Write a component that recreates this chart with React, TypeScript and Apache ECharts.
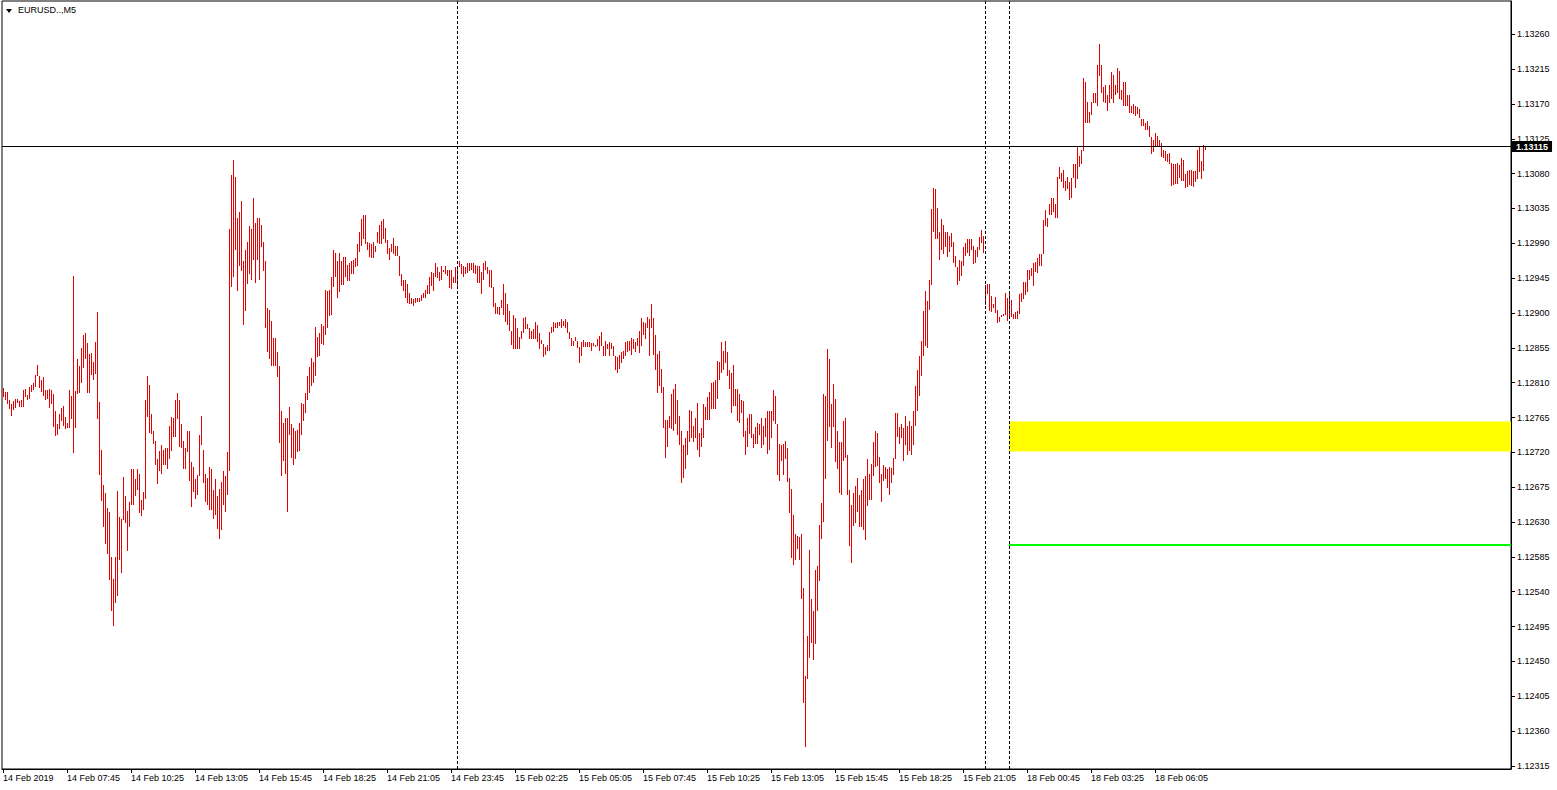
import React, { useEffect, useRef } from 'react';
import * as echarts from 'echarts';

// ---------- data ----------
const SYMBOL_TITLE = 'EURUSD..,M5';
// prices stored in points (0.00001) above BASE_PRICE
const BASE_PRICE = 1.12;
const POINT = 0.00001;

const xLabels = [
  '14 Feb 2019', '14 Feb 07:45', '14 Feb 10:25', '14 Feb 13:05', '14 Feb 15:45', '14 Feb 18:25', '14 Feb 21:05', '14 Feb 23:45',
  '15 Feb 02:25', '15 Feb 05:05', '15 Feb 07:45', '15 Feb 10:25', '15 Feb 13:05', '15 Feb 15:45', '15 Feb 18:25', '15 Feb 21:05',
  '18 Feb 00:45', '18 Feb 03:25', '18 Feb 06:05',
];
const BARS_PER_LABEL = 32;

const yTicks = [
  1.12315, 1.1236, 1.12405, 1.1245, 1.12495, 1.1254, 1.12585, 1.1263, 1.12675, 1.1272, 1.12765,
  1.1281, 1.12855, 1.129, 1.12945, 1.1299, 1.13035, 1.1308, 1.13125, 1.1317, 1.13215, 1.1326,
];

const highPts = [
  803,798,798,787,782,786,789,789,786,788,
  801,802,794,804,807,810,820,833,818,813,
  817,800,801,802,800,795,773,757,770,777,
  780,766,758,800,793,948,799,840,832,855,
  872,874,861,847,848,837,862,901,785,723,
  678,667,648,643,585,557,585,670,636,634,
  688,663,644,656,698,698,686,698,692,659,
  669,788,819,807,770,747,735,712,722,729,
  723,726,726,754,766,764,787,797,787,757,
  735,725,748,747,708,701,685,691,742,767,
  723,692,687,701,698,672,686,663,673,682,
  696,689,720,1008,1078,1097,1076,1023,1031,1045,
  967,982,992,1012,1008,1049,1016,1023,1023,1014,
  992,967,907,904,890,868,868,849,832,773,
  758,765,765,778,756,751,747,749,758,784,
  783,797,819,830,842,837,882,869,874,886,
  883,930,929,930,946,981,978,967,978,967,
  972,972,962,964,967,969,971,989,1005,1021,
  1026,1027,992,991,989,992,987,1005,1014,1019,
  1021,1010,994,984,989,997,986,986,973,951,
  943,943,937,926,920,918,920,920,920,923,
  926,930,936,946,953,952,964,960,953,961,
  956,961,955,956,956,947,959,961,967,963,
  961,959,964,965,965,965,962,961,961,953,
  964,967,960,955,955,934,913,908,908,917,
  938,926,912,903,877,897,894,880,869,877,
  893,895,886,880,877,879,888,885,874,865,
  860,856,859,875,882,889,887,888,889,892,
  890,892,888,876,868,864,869,864,856,862,
  865,862,862,862,861,861,859,866,870,875,
  858,864,860,862,861,857,845,843,846,850,
  851,862,864,864,868,866,863,868,877,893,
  888,887,895,892,912,893,871,847,851,828,
  805,762,762,767,796,802,808,787,767,748,
  729,739,747,775,774,754,765,784,745,751,
  782,779,792,798,810,811,813,838,837,862,
  851,864,849,827,822,833,802,802,795,787,
  786,747,764,769,770,744,753,758,756,764,
  754,764,773,773,774,800,793,756,731,729,
  731,735,725,687,673,639,614,612,611,614,
  545,431,483,594,530,515,568,573,626,654,
  795,793,854,840,782,808,789,747,733,733,
  761,764,717,672,652,668,677,687,665,672,
  686,689,711,692,705,733,748,745,714,692,
  704,701,698,701,700,713,771,771,753,757,
  752,767,754,761,754,774,806,826,845,864,
  903,929,916,943,1034,1061,1060,1036,1004,1021,
  1014,1005,1005,1000,1003,992,973,959,968,967,
  985,990,996,996,996,986,981,985,998,1007,
  1000,936,937,937,922,912,921,904,895,898,
  899,926,920,927,917,899,901,902,925,926,
  940,940,955,955,958,964,966,971,976,976,
  1020,1033,1023,1041,1048,1048,1041,1076,1088,1081,
  1085,1070,1076,1069,1075,1092,1092,1114,1103,1111,
  1203,1198,1173,1159,1172,1184,1184,1220,1247,1220,
  1192,1195,1182,1194,1211,1207,1194,1216,1212,1188,
  1198,1198,1182,1181,1168,1170,1168,1166,1163,1151,
  1151,1145,1148,1142,1127,1124,1132,1129,1124,1119,
  1110,1109,1106,1107,1094,1093,1092,1094,1091,1100,
  1097,1079,1084,1085,1085,1084,1083,1111,1115,1096,
  1117,1114,
];

const lowPts = [
  792,788,783,776,767,775,777,784,779,779,
  779,791,788,789,798,800,805,818,803,798,
  793,787,789,777,782,753,741,742,750,761,
  754,750,751,752,763,719,752,795,797,810,
  829,841,797,797,820,814,821,763,691,657,
  624,602,589,555,515,496,526,534,581,564,
  632,629,593,624,652,652,663,672,642,638,
  645,660,766,745,744,731,704,679,696,692,
  704,704,699,712,722,740,740,763,727,725,
  698,699,720,683,650,669,660,665,689,729,
  681,656,652,645,645,634,639,621,608,620,
  652,643,665,696,933,947,981,928,961,954,
  884,903,938,951,943,968,939,968,943,985,
  954,880,850,841,832,832,832,817,732,690,
  709,692,643,742,713,704,712,720,722,742,
  761,771,787,797,806,809,818,843,845,860,
  859,871,880,896,898,934,947,919,927,936,
  936,947,941,941,951,951,960,961,979,987,
  995,989,982,972,971,971,979,990,989,989,
  995,990,976,968,979,976,973,973,948,935,
  929,919,913,912,911,909,913,914,914,915,
  919,920,924,925,935,929,946,945,941,943,
  953,950,948,932,931,939,939,932,959,951,
  947,950,952,954,955,952,950,939,939,924,
  943,956,951,933,932,908,899,899,898,907,
  898,889,885,877,859,854,854,854,854,866,
  874,879,879,866,866,866,866,862,853,860,
  843,846,851,851,874,875,881,881,883,881,
  883,881,874,867,858,858,864,855,835,845,
  856,856,856,856,851,857,856,857,851,857,
  845,845,853,845,853,845,826,823,828,836,
  841,844,850,851,846,853,850,858,848,858,
  872,866,880,845,880,846,826,797,806,797,
  751,713,727,751,750,748,757,742,730,681,
  687,698,716,734,738,734,739,723,714,727,
  738,762,762,762,776,776,776,789,814,822,
  827,836,818,802,771,780,780,760,758,771,
  740,717,727,744,739,726,731,731,743,726,
  730,740,718,723,738,761,757,691,683,709,
  691,712,682,642,583,575,581,595,581,531,
  396,339,427,455,474,452,473,515,554,608,
  630,686,735,753,725,753,707,698,668,665,
  709,713,665,599,577,625,629,643,624,623,
  620,607,651,659,659,689,701,703,680,656,
  683,685,674,665,681,691,711,740,731,739,
  709,729,716,722,716,729,754,774,793,819,
  845,858,855,904,936,1004,996,995,968,982,
  976,985,972,979,985,964,960,936,941,948,
  961,974,977,974,981,963,964,972,982,990,
  978,910,924,902,901,907,900,887,889,895,
  896,898,890,892,895,892,892,892,899,914,
  918,923,927,942,948,935,953,952,961,961,
  976,1012,1011,1027,1026,1030,1023,1023,1073,1069,
  1062,1057,1060,1046,1048,1075,1062,1073,1088,1092,
  1109,1146,1146,1145,1156,1171,1171,1167,1206,1184,
  1172,1171,1161,1171,1177,1171,1181,1184,1176,1175,
  1168,1168,1167,1158,1158,1157,1155,1157,1152,1141,
  1141,1137,1136,1127,1105,1108,1114,1115,1114,1101,
  1100,1096,1095,1092,1064,1065,1067,1067,1075,1070,
  1070,1061,1063,1065,1064,1063,1069,1073,1082,1073,
  1083,1110,
];

const lastPrice = 1.13115;
const daySeparatorBars = [227, 491, 503];
const zoneStartBar = 503;
const zoneHigh = 1.1276;
const zoneLow = 1.12721;
const levelPrice = 1.12601;

// ---------- chart ----------
const BAR_COLOR = '#e60000';
const FONT = '"Liberation Sans", Arial, sans-serif';
const Y_MIN = 1.12311;
const Y_MAX = 1.13303;
const X_MIN = -0.5;
const X_MAX = 754;

export default function App() {
  const ref = useRef<HTMLDivElement>(null);

  useEffect(() => {
    document.body.style.margin = '0';
    const chart = echarts.init(ref.current!, null, { renderer: 'svg' });

    const data = highPts.map((h, i) => [i, BASE_PRICE + h * POINT, BASE_PRICE + lowPts[i] * POINT]);
    const xTickValues = xLabels.map((_, k) => k * BARS_PER_LABEL);

    chart.setOption({
      animation: false,
      backgroundColor: '#ffffff',
      textStyle: { fontFamily: FONT },
      grid: {
        left: 2, right: 46, top: 1, bottom: 21,
        show: true, borderColor: '#000', borderWidth: 1, backgroundColor: '#fff',
      },
      xAxis: {
        type: 'value', min: X_MIN, max: X_MAX,
        splitLine: { show: false },
        axisLine: { show: true, onZero: false, lineStyle: { color: '#000', width: 1 } },
        axisTick: { show: true, length: 4, lineStyle: { color: '#000' }, customValues: xTickValues },
        axisLabel: {
          customValues: xTickValues, align: 'left', margin: 4,
          color: '#000', fontSize: 9, fontFamily: FONT,
          formatter: (v: number) => xLabels[Math.round(v / BARS_PER_LABEL)] ?? '',
        },
      },
      yAxis: {
        type: 'value', position: 'right', min: Y_MIN, max: Y_MAX, scale: true,
        splitLine: { show: false },
        axisLine: { show: true, onZero: false, lineStyle: { color: '#000', width: 1 } },
        axisTick: { show: true, length: 4, lineStyle: { color: '#000' }, customValues: yTicks },
        axisLabel: {
          customValues: yTicks, margin: 6, color: '#000', fontSize: 9, fontFamily: FONT,
          formatter: (v: number) => v.toFixed(5),
        },
      },
      graphic: [
        { type: 'polygon', shape: { points: [[6, 9], [12, 9], [9, 13]] }, style: { fill: '#000' }, silent: true },
        { type: 'text', x: 18, y: 5, style: { text: SYMBOL_TITLE, fill: '#000', font: `9px ${FONT}` }, silent: true },
      ],
      series: [
        {
          type: 'custom',
          clip: true,
          encode: { x: 0, y: [1, 2] },
          data,
          renderItem: (params: any, api: any) => {
            const i = api.value(0);
            const top = api.coord([i, api.value(1)]);
            const bot = api.coord([i, api.value(2)]);
            const x = Math.floor(top[0]) + 0.5;
            const y1 = Math.round(top[1]);
            const y2 = Math.max(Math.round(bot[1]), y1 + 1);
            return {
              type: 'line',
              shape: { x1: x, y1, x2: x, y2 },
              style: { stroke: BAR_COLOR, lineWidth: 1 },
            };
          },
          markArea: {
            silent: true,
            itemStyle: { color: '#ffff00' },
            data: [[{ xAxis: zoneStartBar, yAxis: zoneHigh }, { xAxis: X_MAX, yAxis: zoneLow }]],
          },
          markLine: {
            silent: true,
            precision: 6,
            symbol: ['none', 'none'],
            animation: false,
            data: [
              ...daySeparatorBars.map((b) => ({
                xAxis: b,
                lineStyle: { color: '#000', width: 1, type: [3, 2] },
                label: { show: false },
              })),
              [
                { coord: [zoneStartBar, levelPrice], lineStyle: { color: '#00ff00', width: 2, type: 'solid' }, label: { show: false } },
                { coord: [X_MAX, levelPrice] },
              ],
              {
                yAxis: lastPrice,
                lineStyle: { color: '#000', width: 1, type: 'solid' },
                label: {
                  show: true, position: 'end', distance: 1,
                  formatter: lastPrice.toFixed(5),
                  color: '#fff', backgroundColor: '#000', fontWeight: 'bold',
                  fontSize: 9, fontFamily: FONT, padding: [1, 4, 1, 4],
                },
              },
            ],
          },
        },
      ],
    });

    return () => chart.dispose();
  }, []);

  return <div ref={ref} style={{ width: 1557, height: 790 }} />;
}
